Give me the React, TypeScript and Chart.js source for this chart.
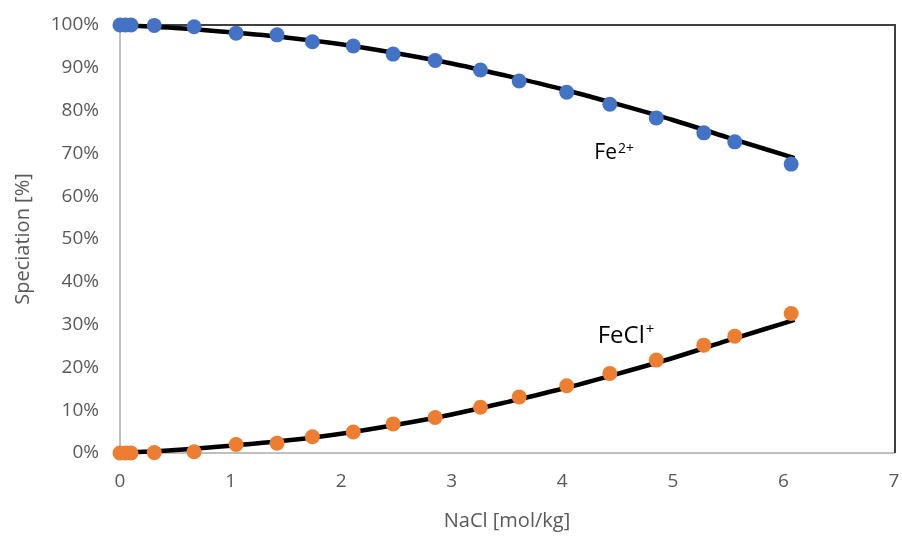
import React, { useEffect, useRef } from "react";
import { Chart, registerables } from "chart.js";

Chart.register(...registerables);

// Measured points (NaCl molality vs speciation %)
const naclPoints = [0, 0.05, 0.1, 0.31, 0.67, 1.05, 1.42, 1.74, 2.11, 2.47, 2.85, 3.26, 3.61, 4.04, 4.43, 4.85, 5.28, 5.56, 6.07];
const fe2Points = [100, 100, 100, 99.9, 99.6, 98.1, 97.7, 96.1, 95.1, 93.2, 91.7, 89.5, 86.9, 84.3, 81.5, 78.3, 74.8, 72.7, 67.5];
const feclPoints = [0, 0, 0, 0.1, 0.3, 2.0, 2.3, 3.8, 4.9, 6.8, 8.3, 10.7, 13.1, 15.7, 18.6, 21.7, 25.2, 27.3, 32.6];

// Model curves (black lines)
const modelNacl = [0, 0.5, 1, 1.5, 2, 2.5, 3, 3.5, 4, 4.5, 5, 5.5, 6, 6.1];
const modelFe2 = [100, 99.3, 98.3, 97.1, 95.5, 93.4, 91.0, 88.1, 85.0, 81.5, 77.8, 73.7, 69.7, 68.9];
const modelFecl = [0, 0.7, 1.7, 2.9, 4.5, 6.6, 9.0, 11.9, 15.0, 18.5, 22.2, 26.3, 30.3, 31.1];

const xMin = 0;
const xMax = 7;
const yMin = 0;
const yMax = 100;
const yStep = 10;
const xStep = 1;

const xTitle = "NaCl [mol/kg]";
const yTitle = "Speciation [%]";

// Species labels
const labelFe2 = { base: "Fe", sup: "2+", x: 4.29, y: 68.7 };
const labelFecl = { base: "FeCl", sup: "+", x: 4.32, y: 25.7 };

const FONT = "'Open Sans', 'Noto Sans', sans-serif";

const toXY = (xs: number[], ys: number[]) => xs.map((x, i) => ({ x, y: ys[i] }));

const zeroPad = (s: any) => {
  s.paddingLeft = 0;
  s.paddingRight = 0;
  s.paddingTop = 0;
  s.paddingBottom = 0;
};

const decorPlugin = {
  id: "decor",
  beforeDatasetsDraw(chart: any) {
    const { ctx, chartArea } = chart;
    ctx.save();
    ctx.strokeStyle = "#404040";
    ctx.lineWidth = 2;
    ctx.beginPath();
    ctx.moveTo(chartArea.left, chartArea.top);
    ctx.lineTo(chartArea.right + 1, chartArea.top);
    ctx.lineTo(chartArea.right + 1, chartArea.bottom);
    ctx.stroke();
    ctx.restore();
  },
  afterDatasetsDraw(chart: any) {
    const { ctx } = chart;
    const xs = chart.scales.x;
    const ys = chart.scales.y;
    const drawLabel = (
      l: { base: string; sup: string; x: number; y: number },
      size: number,
      supSize: number,
      rise: number
    ) => {
      const px = xs.getPixelForValue(l.x);
      const py = ys.getPixelForValue(l.y);
      ctx.save();
      ctx.fillStyle = "#000000";
      ctx.textBaseline = "alphabetic";
      ctx.textAlign = "left";
      ctx.font = `${size}px ${FONT}`;
      ctx.fillText(l.base, px, py);
      const w = ctx.measureText(l.base).width;
      ctx.font = `${supSize}px ${FONT}`;
      ctx.fillText(l.sup, px + w + 1, py - rise);
      ctx.restore();
    };
    drawLabel(labelFe2, 21, 14, 6);
    drawLabel(labelFecl, 24, 15, 9);
  },
};

export default function App() {
  const canvasRef = useRef<HTMLCanvasElement | null>(null);

  useEffect(() => {
    document.body.style.margin = "0";
    const canvas = canvasRef.current;
    if (!canvas) return;
    const chart = new Chart(canvas, {
      type: "scatter",
      data: {
        datasets: [
          {
            label: "Fe2+ points",
            data: toXY(naclPoints, fe2Points),
            backgroundColor: "#4472C4",
            borderColor: "#4472C4",
            pointRadius: 7.5,
            pointHoverRadius: 7.5,
            borderWidth: 0,
            showLine: false,
            clip: false,
            order: 0,
          } as any,
          {
            label: "FeCl+ points",
            data: toXY(naclPoints, feclPoints),
            backgroundColor: "#ED7D31",
            borderColor: "#ED7D31",
            pointRadius: 7.5,
            pointHoverRadius: 7.5,
            borderWidth: 0,
            showLine: false,
            clip: false,
            order: 0,
          } as any,
          {
            label: "Fe2+ model",
            data: toXY(modelNacl, modelFe2),
            borderColor: "#000000",
            backgroundColor: "#000000",
            borderWidth: 4.5,
            pointRadius: 0,
            showLine: true,
            clip: false,
            cubicInterpolationMode: "monotone",
            order: 1,
          } as any,
          {
            label: "FeCl+ model",
            data: toXY(modelNacl, modelFecl),
            borderColor: "#000000",
            backgroundColor: "#000000",
            borderWidth: 4.5,
            pointRadius: 0,
            showLine: true,
            clip: false,
            cubicInterpolationMode: "monotone",
            order: 1,
          } as any,
        ],
      },
      options: {
        animation: false,
        responsive: true,
        maintainAspectRatio: false,
        layout: { autoPadding: false, padding: { top: 25, right: 8, left: 0, bottom: 0 } },
        plugins: {
          legend: { display: false },
          tooltip: { enabled: false },
        },
        scales: {
          x: {
            type: "linear",
            min: xMin,
            max: xMax,
            afterFit: (s: any) => {
              s.height = 83;
              zeroPad(s);
            },
            ticks: {
              stepSize: xStep,
              color: "#595959",
              font: { family: FONT, size: 19 },
              padding: 17,
            },
            grid: { display: false, drawTicks: false },
            border: { display: true, color: "#BFBFBF", width: 2 },
            title: {
              display: true,
              text: xTitle,
              color: "#595959",
              font: { family: FONT, size: 20 },
              padding: { top: 0, bottom: 3 },
            },
          },
          y: {
            type: "linear",
            min: yMin,
            max: yMax,
            afterFit: (s: any) => {
              s.width = 120;
              zeroPad(s);
            },
            ticks: {
              stepSize: yStep,
              color: "#595959",
              font: { family: FONT, size: 19 },
              padding: 21,
              callback: (v: any) => `${v}%`,
            },
            grid: { display: false, drawTicks: false },
            border: { display: true, color: "#BFBFBF", width: 2 },
            title: {
              display: true,
              text: yTitle,
              color: "#595959",
              font: { family: FONT, size: 20 },
              padding: { top: 11, bottom: 0 },
            },
          },
        },
      },
      plugins: [decorPlugin],
    });
    return () => chart.destroy();
  }, []);

  return (
    <div style={{ width: 902, height: 536, position: "relative", background: "#ffffff" }}>
      <canvas ref={canvasRef} />
    </div>
  );
}
